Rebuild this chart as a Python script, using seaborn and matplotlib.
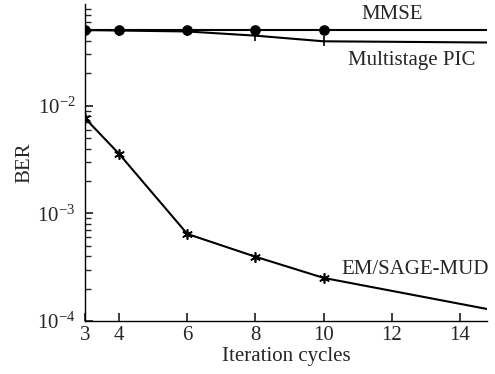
import matplotlib
matplotlib.use("Agg")
import matplotlib.pyplot as plt
import numpy as np
import pandas as pd
import seaborn as sns
from matplotlib.ticker import LogLocator, NullFormatter

# iteration cycles where markers are drawn, plus the curve end at the right edge
iters = [3, 4, 6, 8, 10, 14.8]
mmse = [0.0505, 0.0505, 0.0505, 0.0505, 0.0505, 0.0505]
pic = [0.0505, 0.0500, 0.0490, 0.0448, 0.0397, 0.0387]
em_sage = [0.00764, 0.00356, 0.000643, 0.000395, 0.000251, 0.000129]

x_ticks = [3, 4, 6, 8, 10, 12, 14]

sns.set_theme(style="ticks")
plt.rcParams["font.family"] = ["Liberation Serif", "DejaVu Serif"]
plt.rcParams["mathtext.fontset"] = "stix"

df = pd.DataFrame({
    "iter": iters * 3,
    "ber": mmse + pic + em_sage,
    "curve": ["MMSE"] * 6 + ["Multistage PIC"] * 6 + ["EM/SAGE-MUD"] * 6,
})

fig = plt.figure(figsize=(4.95, 3.74), dpi=100)
ax = fig.add_axes([0.172, 0.142, 0.812, 0.847])

sns.lineplot(data=df, x="iter", y="ber", units="curve", estimator=None,
             color="black", lw=1.5, ax=ax)

marker_styles = {
    "MMSE": dict(marker="o", s=42),
    "Multistage PIC": dict(marker="|", s=55),
    "EM/SAGE-MUD": dict(marker=(6, 2, 0), s=45),
}
for name, kw in marker_styles.items():
    sub = df[(df["curve"] == name) & (df["iter"] <= 10)]
    sns.scatterplot(data=sub, x="iter", y="ber", color="black", edgecolor="black",
                    linewidth=1.2, ax=ax, zorder=3, **kw)

ax.set_yscale("log")
ax.set_xlim(3, 14.8)
ax.set_ylim(1e-4, 0.088)
ax.set_xticks(x_ticks)
ax.set_xticklabels([str(t) for t in x_ticks])
ax.yaxis.set_major_locator(LogLocator(base=10, numticks=10))
ax.yaxis.set_minor_locator(LogLocator(base=10, subs=np.arange(2, 10), numticks=20))
ax.yaxis.set_minor_formatter(NullFormatter())

ax.tick_params(axis="both", which="both", direction="in", labelsize=15, pad=4)
ax.tick_params(axis="y", which="major", pad=7)
ax.tick_params(axis="both", which="major", length=6)
ax.tick_params(axis="y", which="minor", length=4)
ax.spines["top"].set_visible(False)
ax.spines["right"].set_visible(False)
for sp in ["left", "bottom"]:
    ax.spines[sp].set_linewidth(1.0)
    ax.spines[sp].set_color("black")

ax.set_xlabel("Iteration cycles", fontsize=15, labelpad=1)
ax.set_ylabel("BER", fontsize=15, labelpad=2)

ax.text(12.0, 0.0698, "MMSE", fontsize=15, ha="center", va="center")
ax.text(12.6, 0.0266, "Multistage PIC", fontsize=15, ha="center", va="center")
ax.text(12.7, 0.000299, "EM/SAGE-MUD", fontsize=15, ha="center", va="center")

fig.savefig("out.png", dpi=100)
